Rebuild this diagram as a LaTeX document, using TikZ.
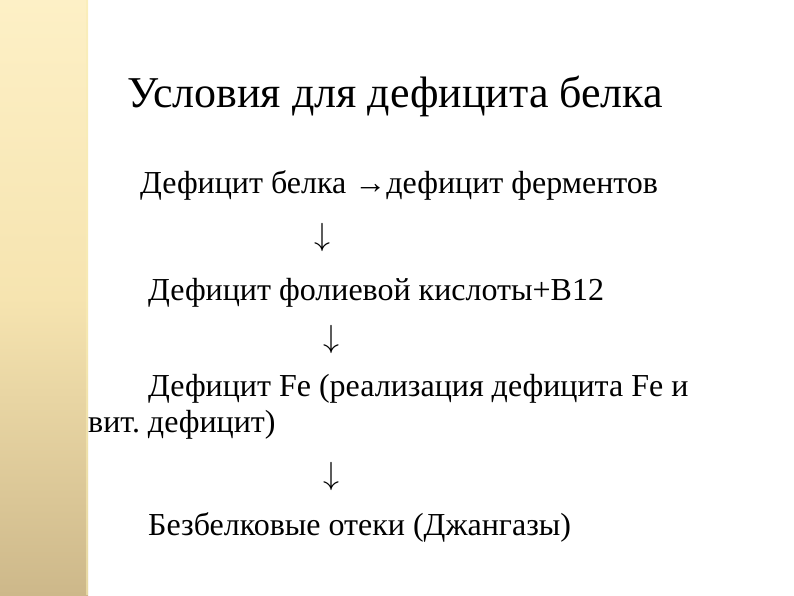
\RequirePackage{fix-cm}
\documentclass[tikz,border=0pt]{standalone}
\usepackage{fontspec}
\setmainfont{Liberation Serif}
\newcommand{\titlefont}{\fontsize{44}{52}\selectfont}
\newcommand{\bodyfont}{\fontsize{32}{36}\selectfont\frenchspacing}
\definecolor{barTop}{HTML}{FDF0C6}
\definecolor{barMid}{HTML}{F6E4B0}
\definecolor{barBot}{HTML}{CDB88A}
\definecolor{barEdge}{HTML}{F8EDB4}
\begin{document}
\begin{tikzpicture}[x=1pt,y=-1pt,
    txt/.style={anchor=base west, inner sep=0pt, font=\bodyfont},
    dn/.style={anchor=center, inner sep=0pt, font=\bodyfont}]
                \useasboundingbox (0,0) rectangle (794,595);
                % left bar
                \shade[top color=barTop, bottom color=barBot, middle color=barMid] (0,0) rectangle (88,595);
                \fill[barEdge, opacity=.6] (86,0) rectangle (88,595);
                \node[anchor=base west, inner sep=0pt, font=\titlefont] (title) at (127,107) {Условия для дефицита белка};
                \node[txt] (belok) at (140,193) {Дефицит белка →дефицит ферментов};
                \node[dn] (d1) at (322,237.5) {$\downarrow$};
                \node[txt] (fol) at (148,300) {Дефицит фолиевой кислоты+В12};
                \node[dn] (d2) at (331,339.5) {$\downarrow$};
                \node[txt] (fe) at (148,396) {Дефицит Fe (реализация дефицита Fe и};
                \node[txt] (vit) at (88,432) {вит. дефицит)};
                \node[dn] (d3) at (331,476.5) {$\downarrow$};
                \node[txt] (oteki) at (148,535) {Безбелковые отеки (Джангазы)};
            \end{tikzpicture}
\end{document}
